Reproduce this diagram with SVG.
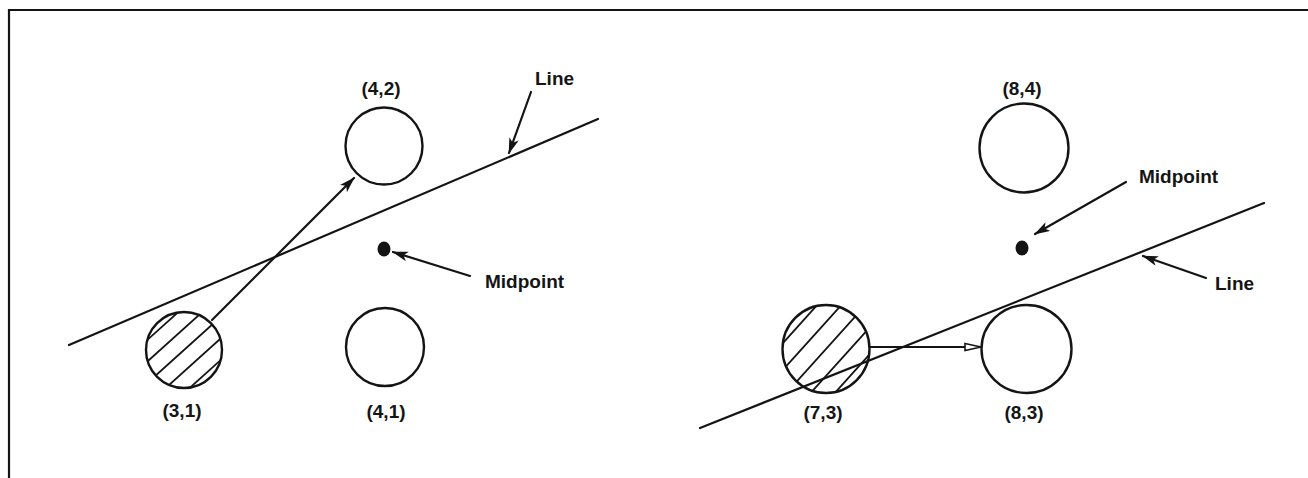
<svg xmlns="http://www.w3.org/2000/svg" width="1308" height="478" viewBox="0 0 1308 478">
<style>
.ln{stroke:#141414;stroke-width:2.2;fill:none;stroke-linecap:round}
.cir{stroke:#141414;stroke-width:2.4;fill:none}
.h{stroke:#141414;stroke-width:1.8}
.t{font-family:"Liberation Sans",Arial,sans-serif;font-weight:bold;font-size:19px;fill:#151515}
.c{text-anchor:middle}
</style>
<defs>
<marker id="ah" markerUnits="userSpaceOnUse" markerWidth="18" markerHeight="12" refX="15" refY="5" orient="auto">
<path d="M0,0 L16,5 L0,10 L4,5 z" fill="#141414"/>
</marker>
<marker id="ao" markerUnits="userSpaceOnUse" markerWidth="20" markerHeight="12" refX="17" refY="5" orient="auto">
<path d="M1,1.5 L17,5 L1,8.5 z" fill="#fff" stroke="#141414" stroke-width="1.6"/>
</marker>
<clipPath id="c31"><circle cx="184" cy="350" r="38"/></clipPath>
<clipPath id="c73"><ellipse cx="826" cy="349" rx="43.5" ry="44"/></clipPath>
</defs>
<rect width="1308" height="478" fill="#fff"/>
<g id="frame">
<path class="ln" d="M9,478 L9,10 L1308,10" stroke-linecap="butt"/>
</g>
<g id="left-panel">
<g id="n42">
<circle class="cir" cx="384" cy="146" r="38.5"/>
<text class="t c" x="381" y="95">(4,2)</text>
</g>
<g id="n31">
<g clip-path="url(#c31)">
<g transform="translate(184,350) rotate(-42)">
<line class="h" x1="-60" y1="-32" x2="60" y2="-32"/>
<line class="h" x1="-60" y1="-16" x2="60" y2="-16"/>
<line class="h" x1="-60" y1="0" x2="60" y2="0"/>
<line class="h" x1="-60" y1="16" x2="60" y2="16"/>
<line class="h" x1="-60" y1="32" x2="60" y2="32"/>
</g>
</g>
<circle class="cir" cx="184" cy="350" r="38"/>
<text class="t c" x="182" y="417">(3,1)</text>
</g>
<g id="n41">
<circle class="cir" cx="385" cy="347" r="39"/>
<text class="t c" x="386" y="418">(4,1)</text>
</g>
<g id="mid-left">
<ellipse cx="384" cy="249" rx="6.5" ry="7.5" fill="#141414"/>
<text class="t" x="485" y="288">Midpoint</text>
</g>
<g id="line-label-left">
<text class="t" x="535" y="85">Line</text>
</g>
</g>
<g id="right-panel">
<g id="n84">
<circle class="cir" cx="1024" cy="148" r="44.5"/>
<text class="t c" x="1022" y="95">(8,4)</text>
</g>
<g id="n73">
<g clip-path="url(#c73)">
<g transform="translate(826,349) rotate(-48)">
<line class="h" x1="-70" y1="-36" x2="70" y2="-36"/>
<line class="h" x1="-70" y1="-18" x2="70" y2="-18"/>
<line class="h" x1="-70" y1="0" x2="70" y2="0"/>
<line class="h" x1="-70" y1="18" x2="70" y2="18"/>
<line class="h" x1="-70" y1="36" x2="70" y2="36"/>
</g>
</g>
<ellipse class="cir" cx="826" cy="349" rx="43.5" ry="44"/>
<text class="t c" x="823" y="419">(7,3)</text>
</g>
<g id="n83">
<ellipse class="cir" cx="1026.5" cy="349" rx="45" ry="44"/>
<text class="t c" x="1024" y="419">(8,3)</text>
</g>
<g id="mid-right">
<ellipse cx="1022" cy="248" rx="6.5" ry="7.5" fill="#141414"/>
<text class="t" x="1139" y="183">Midpoint</text>
</g>
<g id="line-label-right">
<text class="t" x="1215" y="290">Line</text>
</g>
</g>
<g id="connectors">
<line class="ln" x1="69" y1="345" x2="598" y2="119"/>
<line class="ln" x1="212" y1="320" x2="354" y2="178" marker-end="url(#ah)"/>
<line class="ln" x1="531" y1="92" x2="509" y2="153" marker-end="url(#ah)"/>
<line class="ln" x1="470" y1="276" x2="393" y2="252" marker-end="url(#ah)"/>
<line class="ln" x1="700" y1="428" x2="1264" y2="203"/>
<line class="ln" x1="870" y1="347" x2="981" y2="347" stroke-width="2.6" marker-end="url(#ao)"/>
<line class="ln" x1="1126" y1="182" x2="1035" y2="234" marker-end="url(#ah)"/>
<line class="ln" x1="1206" y1="278" x2="1143" y2="256" marker-end="url(#ah)"/>
</g>
</svg>
